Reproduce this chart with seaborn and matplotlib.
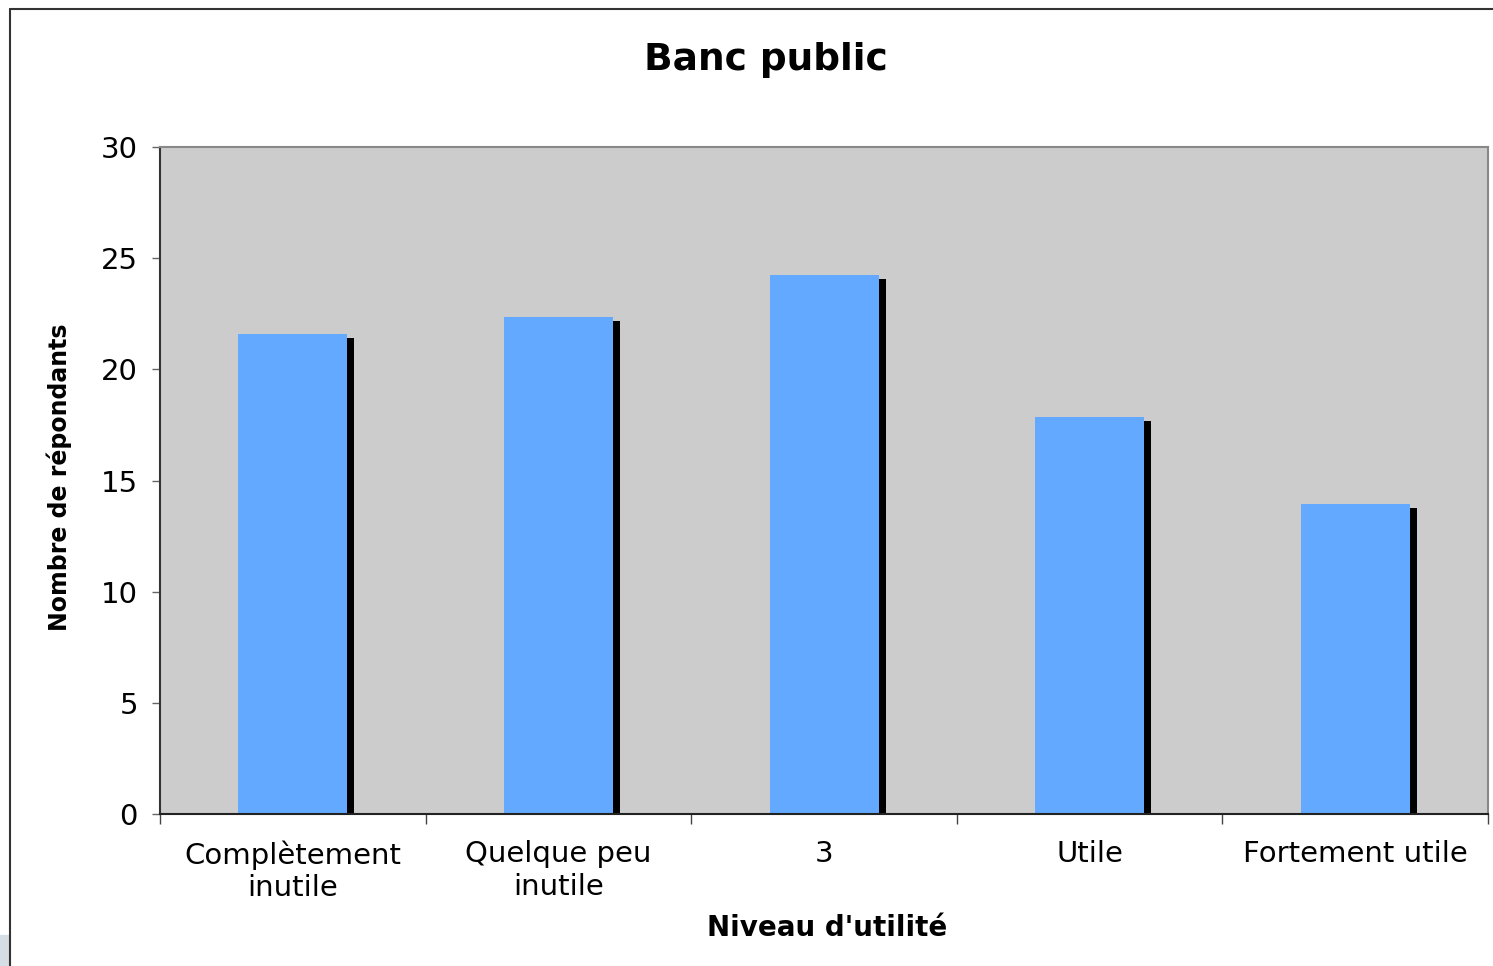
import matplotlib
matplotlib.use('Agg')
import matplotlib.pyplot as plt
from matplotlib.transforms import ScaledTranslation
from matplotlib.lines import Line2D
from matplotlib.patches import Rectangle
import seaborn as sns

sns.set_style('white')
plt.rcParams['font.family'] = ['DejaVu Sans']
plt.rcParams['text.color'] = 'black'
plt.rcParams['xtick.color'] = 'black'
plt.rcParams['ytick.color'] = 'black'
plt.rcParams['axes.labelcolor'] = 'black'

# data
niveaux = ['Complètement\ninutile', 'Quelque peu\ninutile', '3', 'Utile', 'Fortement utile']
repondants = [21.6, 22.35, 24.25, 17.85, 13.95]
y_ticks = [0, 5, 10, 15, 20, 25, 30]

fig = plt.figure(figsize=(14.93, 9.66), dpi=100)
ax = fig.add_axes([0.1072, 0.1573, 0.8895, 0.6905])
ax.set_facecolor('#CCCCCC')

# black shadow bars behind, then the blue bars
sns.barplot(x=niveaux, y=repondants, color='black', saturation=1, width=0.41, linewidth=0, ax=ax)
shadow = list(ax.patches)
sns.barplot(x=niveaux, y=repondants, color='#62A9FF', saturation=1, width=0.41, linewidth=0, ax=ax)
for p in shadow:
    # shift the shadow 7px right, 4px down
    p.set_transform(ax.transData + ScaledTranslation(0.07, -0.04, fig.dpi_scale_trans))
    p.set_zorder(1)
for p in ax.patches[len(shadow):]:
    p.set_zorder(2)

ax.set_xlim(-0.5, len(niveaux) - 0.5)
ax.set_ylim(0, 30)
ax.set_yticks(y_ticks)
ax.tick_params(axis='y', labelsize=21, length=6, width=1, color='#666666', pad=10, left=True)
ax.tick_params(axis='x', which='major', labelsize=21, length=0, pad=19)
ax.set_xticks([i + 0.5 for i in range(-1, len(niveaux))], minor=True)
ax.tick_params(axis='x', which='minor', length=7, width=1, color='#444444', bottom=True)

ax.spines['left'].set_color('#333333')
ax.spines['bottom'].set_color('#222222')
ax.spines['top'].set_color('#888888')
ax.spines['right'].set_color('#888888')
for s in ax.spines.values():
    s.set_linewidth(1.5)

ax.set_ylabel('Nombre de répondants', fontsize=17, fontweight='bold')
ax.yaxis.set_label_coords(-0.066, 0.505)
ax.set_xlabel("Niveau d'utilité", fontsize=20, fontweight='bold')
ax.xaxis.set_label_coords(0.502, -0.150)

fig.text(766 / 1493, 1 - 60 / 966, 'Banc public', fontsize=27, fontweight='bold',
         ha='center', va='center')

# outer chart border
fig.add_artist(Line2D([10 / 1493, 1.0], [1 - 9 / 966] * 2, color='#333333', lw=1.5))
fig.add_artist(Line2D([10 / 1493] * 2, [0, 1 - 9 / 966], color='#333333', lw=1.5))
fig.add_artist(Rectangle((0, 0), 9 / 1493, 31 / 966, color='#D5DDE5', transform=fig.transFigure))

fig.savefig('out.png', dpi=100)
